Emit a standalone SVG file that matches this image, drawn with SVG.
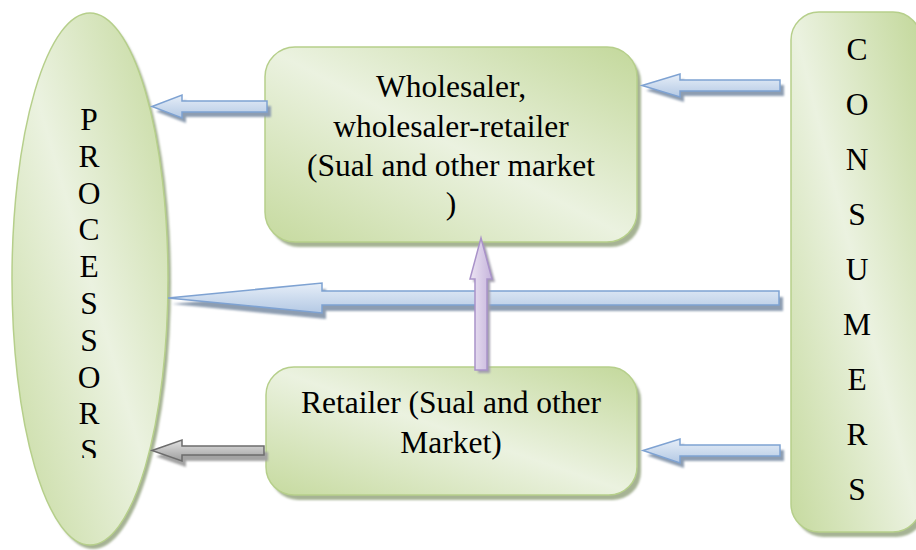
<svg xmlns="http://www.w3.org/2000/svg" xmlns:xlink="http://www.w3.org/1999/xlink" width="916" height="550" viewBox="0 0 916 550">
  <defs>
    <!-- soft green fill: darker at top-right and bottom-left corners, light band across the middle -->
    <linearGradient id="greenFill" x1="1" y1="0" x2="0" y2="1">
      <stop offset="0" stop-color="#c3d89b"/>
      <stop offset="0.5" stop-color="#ebf2e0"/>
      <stop offset="1" stop-color="#c6da9f"/>
    </linearGradient>
    <linearGradient id="blueFill" x1="0" y1="0" x2="0" y2="1">
      <stop offset="0" stop-color="#e6eef8"/>
      <stop offset="1" stop-color="#b4c9e4"/>
    </linearGradient>
    <linearGradient id="purpleFill" x1="0" y1="0" x2="1" y2="0">
      <stop offset="0" stop-color="#ece4f3"/>
      <stop offset="1" stop-color="#c6b5dc"/>
    </linearGradient>
    <linearGradient id="greyFill" x1="0" y1="0" x2="0" y2="1">
      <stop offset="0" stop-color="#e2e2e2"/>
      <stop offset="1" stop-color="#9e9e9e"/>
    </linearGradient>
    <filter id="soft" x="-5%" y="-5%" width="110%" height="110%">
      <feGaussianBlur stdDeviation="0.8"/>
    </filter>
    <clipPath id="procClip">
      <rect x="40" y="95" width="100" height="363"/>
    </clipPath>
  </defs>
  <style>
    .node { fill: url(#greenFill); stroke: #b6cf8b; stroke-width: 1.5; }
    .nodeShadow { fill: #a6b394; filter: url(#soft); }
    .label { font-family: "Liberation Serif", "Times New Roman", serif; font-size: 31.5px; fill: #000; text-anchor: middle; }
    .blue { fill: url(#blueFill); stroke: #7ea2d2; stroke-width: 1.5; stroke-linejoin: miter; }
    .blueShadow { fill: #8d9db1; filter: url(#soft); }
    .purple { fill: url(#purpleFill); stroke: #a992c9; stroke-width: 1.5; }
    .purpleShadow { fill: #a39fae; filter: url(#soft); }
    .grey { fill: url(#greyFill); stroke: #6c6c6c; stroke-width: 1.5; }
    .greyShadow { fill: #a3a3a3; filter: url(#soft); }
  </style>

  <!-- Processors -->
  <g id="processors">
    <ellipse class="nodeShadow" cx="93" cy="283" rx="78" ry="266"/>
    <ellipse class="node" cx="90" cy="279" rx="78" ry="266"/>
    <g clip-path="url(#procClip)">
      <text class="label" x="89" y="130">P</text>
      <text class="label" x="89" y="166.8">R</text>
      <text class="label" x="89" y="203.6">O</text>
      <text class="label" x="89" y="240.4">C</text>
      <text class="label" x="89" y="277.2">E</text>
      <text class="label" x="89" y="314">S</text>
      <text class="label" x="89" y="350.8">S</text>
      <text class="label" x="89" y="387.6">O</text>
      <text class="label" x="89" y="424.4">R</text>
      <text class="label" x="89" y="461.2">S</text>
    </g>
  </g>

  <!-- Wholesaler -->
  <g id="wholesaler">
    <rect class="nodeShadow" x="269" y="52" width="372" height="195" rx="30"/>
    <rect class="node" x="265" y="47" width="372" height="195" rx="30"/>
    <text class="label" x="451" y="97">Wholesaler,</text>
    <text class="label" x="451" y="137">wholesaler-retailer</text>
    <text class="label" x="451" y="176">(Sual and other market</text>
    <text class="label" x="451" y="214">)</text>
  </g>

  <!-- Retailer -->
  <g id="retailer">
    <rect class="nodeShadow" x="270" y="372" width="371" height="128" rx="28"/>
    <rect class="node" x="266" y="367" width="371" height="128" rx="28"/>
    <text class="label" x="451" y="413">Retailer (Sual and other</text>
    <text class="label" x="451" y="453">Market)</text>
  </g>

  <!-- Consumers -->
  <g id="consumers">
    <rect class="nodeShadow" x="795" y="17" width="130" height="520" rx="28"/>
    <rect class="node" x="791" y="12" width="130" height="520" rx="28"/>
    <text class="label" x="857" y="60">C</text>
    <text class="label" x="857" y="115">O</text>
    <text class="label" x="857" y="170">N</text>
    <text class="label" x="857" y="225">S</text>
    <text class="label" x="857" y="280">U</text>
    <text class="label" x="857" y="335">M</text>
    <text class="label" x="857" y="390">E</text>
    <text class="label" x="857" y="445">R</text>
    <text class="label" x="857" y="500">S</text>
  </g>

  <!-- Connectors (block arrows with drop shadows) -->
  <g id="connectors">
    <!-- wholesaler to processors -->
    <polygon class="blueShadow" transform="translate(4,5)" points="152,106.5 182,95 182,101 267,101 267,112 182,112 182,118"/>
    <polygon class="blue" points="152,106.5 182,95 182,101 267,101 267,112 182,112 182,118"/>

    <!-- consumers to wholesaler -->
    <polygon class="blueShadow" transform="translate(4,5)" points="642,85.5 680,74 680,80 780,80 780,91 680,91 680,97"/>
    <polygon class="blue" points="642,85.5 680,74 680,80 780,80 780,91 680,91 680,97"/>

    <!-- consumers directly to processors -->
    <polygon class="blueShadow" transform="translate(4,6)" points="168,298 322,283 322,291 779,291 779,305 322,305 322,313"/>
    <polygon class="blue" points="168,298 322,283 322,291 779,291 779,305 322,305 322,313"/>

    <!-- retailer up to wholesaler -->
    <polygon class="purpleShadow" transform="translate(3,3)" points="481,238 492,279 487,279 487,370 475,370 475,279 470,279"/>
    <polygon class="purple" points="481,238 492,279 487,279 487,370 475,370 475,279 470,279"/>

    <!-- retailer to processors -->
    <polygon class="greyShadow" transform="translate(4,6)" points="152,450.5 182,440 182,446 264,446 264,455 182,455 182,461"/>
    <polygon class="grey" points="152,450.5 182,440 182,446 264,446 264,455 182,455 182,461"/>

    <!-- consumers to retailer -->
    <polygon class="blueShadow" transform="translate(4,5)" points="643,450.5 680,439 680,445 780,445 780,456 680,456 680,463"/>
    <polygon class="blue" points="643,450.5 680,439 680,445 780,445 780,456 680,456 680,463"/>
  </g>
</svg>
